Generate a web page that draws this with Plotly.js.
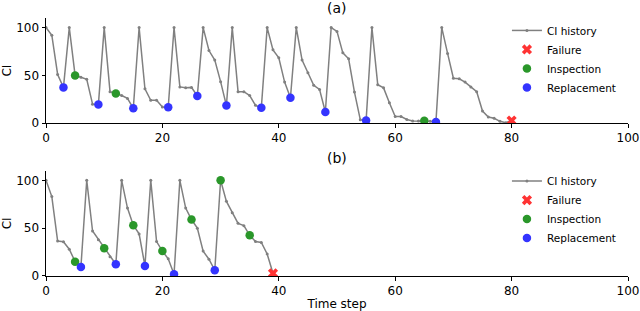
<!DOCTYPE html>
<html><head><meta charset="utf-8">
<script src="https://cdn.plot.ly/plotly-3.0.1.min.js"></script>
<style>body{margin:0;background:#fff}#chart{width:640px;height:311px}</style>
</head><body><div id="chart"></div>
<script>
// (a) CI history, one value per time step starting at 0
const ciA = [100, 92, 51, 37.5, 100, 50, 48, 46, 20, 19.5,
  100, 33, 31, 29, 26, 15.6, 100, 36, 24, 24,
  17, 16.7, 100, 38, 37, 37.5, 28.5, 100, 76, 66,
  43.5, 18.5, 100, 33, 33, 29, 18.7, 16.3, 100, 76.7,
  68.4, 43, 26.7, 100, 66, 52.8, 39.6, 35.4, 11.8, 100,
  96, 73.6, 67.4, 32.6, 3.8, 2.8, 100, 40.3, 37, 21.5,
  7, 7, 4, 2.4, 2.4, 2.6, 2, 1.4, 100, 73,
  47, 46.5, 43, 38, 33, 12.8, 6.6, 5.2, 2, 0.6, 2.8];
const inspA = [5, 12, 65];
const replA = [3, 9, 15, 21, 26, 31, 37, 42, 48, 55, 67];
const failA = [80];

// (b)
const ciB = [100, 83, 36.5, 35.8, 28, 15, 9.5, 100, 47, 38,
  29, 20, 12.3, 100, 71, 53, 44, 10.5, 100, 36,
  26, 18, 1.75, 100, 71, 59, 50, 26, 17.5, 6,
  100, 78, 66, 55, 52.6, 42.5, 36, 35, 23, 2.8];
const inspB = [5, 10, 15, 20, 25, 30, 35];
const replB = [6, 12, 17, 22, 29];
const failB = [39];

const xTicks = [0, 20, 40, 60, 80, 100];
const yTicks = [0, 50, 100];
const FONT = "DejaVu Sans, sans-serif";

function makeTraces(ci, insp, repl, fail, xa, ya, leg) {
  const t = ci.map((_, i) => i);
  const pick = arr => arr.map(i => ci[i]);
  return [
    {x: t, y: ci, type: 'scatter', mode: 'lines+markers', name: 'CI history',
     xaxis: xa, yaxis: ya, legend: leg,
     line: {color: '#808080', width: 1.5}, marker: {color: '#808080', size: 3}},
    {x: fail, y: pick(fail), type: 'scatter', mode: 'markers', name: 'Failure',
     xaxis: xa, yaxis: ya, legend: leg,
     marker: {color: '#ff3333', size: 9, symbol: 'x'}},
    {x: insp, y: pick(insp), type: 'scatter', mode: 'markers', name: 'Inspection',
     xaxis: xa, yaxis: ya, legend: leg,
     marker: {color: '#2a972a', size: 8.5}},
    {x: repl, y: pick(repl), type: 'scatter', mode: 'markers', name: 'Replacement',
     xaxis: xa, yaxis: ya, legend: leg,
     marker: {color: '#3434ff', size: 8.5}}
  ];
}

const data = makeTraces(ciA, inspA, replA, failA, 'x', 'y', 'legend')
  .concat(makeTraces(ciB, inspB, replB, failB, 'x2', 'y2', 'legend2'));

const xBase = {range: [0, 100], tickvals: xTicks, showline: true, linecolor: '#000', linewidth: 1,
  ticks: 'outside', ticklen: 3.5, tickcolor: '#000', showgrid: false, zeroline: false,
  tickfont: {size: 12, color: '#000'}};
const yBase = {range: [0, 110], tickvals: yTicks, showline: true, linecolor: '#000', linewidth: 1,
  ticks: 'outside', ticklen: 3.5, tickcolor: '#000', showgrid: false, zeroline: false,
  tickfont: {size: 12, color: '#000'}, title: {text: 'CI', font: {size: 12, color: '#000'}, standoff: 8}};

const legBase = {xanchor: 'left', yanchor: 'top', bgcolor: 'rgba(0,0,0,0)', font: {size: 10.5, color: '#000'}, x: 0.792};

const layout = {
  width: 640, height: 311,
  margin: {l: 46, r: 12, t: 18, b: 35},
  paper_bgcolor: '#fff', plot_bgcolor: '#fff',
  font: {family: FONT, color: '#000'},
  showlegend: true,
  xaxis: Object.assign({}, xBase, {domain: [0, 1], anchor: 'y'}),
  yaxis: Object.assign({}, yBase, {domain: [0.592, 1], anchor: 'x'}),
  xaxis2: Object.assign({}, xBase, {domain: [0, 1], anchor: 'y2',
    title: {text: 'Time step', font: {size: 12, color: '#000'}, standoff: 4}}),
  yaxis2: Object.assign({}, yBase, {domain: [0, 0.408], anchor: 'x2'}),
  legend: Object.assign({}, legBase, {y: 1.008}),
  legend2: Object.assign({}, legBase, {y: 0.424}),
  annotations: [
    {text: '(a)', xref: 'paper', yref: 'paper', x: 0.5, y: 1.039, showarrow: false,
     xanchor: 'center', yanchor: 'middle', font: {size: 14, color: '#000'}},
    {text: '(b)', xref: 'paper', yref: 'paper', x: 0.5, y: 0.457, showarrow: false,
     xanchor: 'center', yanchor: 'middle', font: {size: 14, color: '#000'}}
  ]
};

Plotly.newPlot('chart', data, layout, {displayModeBar: false, staticPlot: true});
</script>
</body></html>
